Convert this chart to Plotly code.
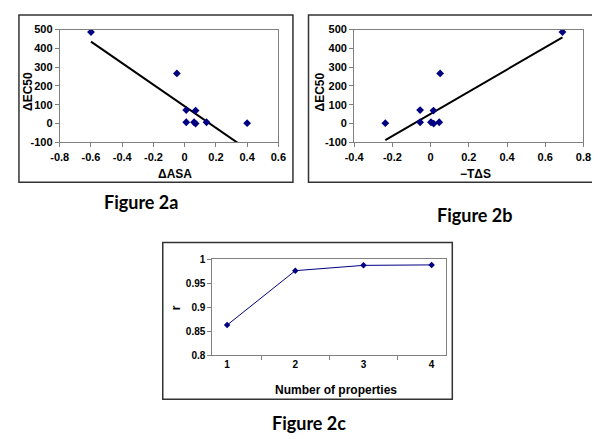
import numpy as np
import plotly.graph_objects as go

# Figure 2a / 2b: the same compounds, dEC50 against dASA and against -TdS
ec50 = [487, 267, 72, 7, 69, 7, 0, 7, 2]
asa = [-0.60, -0.05, 0.01, 0.01, 0.07, 0.06, 0.07, 0.14, 0.40]
tds = [0.69, 0.05, -0.055, -0.055, 0.015, 0.002, 0.016, 0.045, -0.237]

# linear trendlines (slope, intercept)
fit_asa = (-573, 92)
fit_tds = (589, 52)

# tick labels (Excel style, plain hyphen for negatives)
ec50_ticks = [-100, 0, 100, 200, 300, 400, 500]
asa_ticks = [-0.8, -0.6, -0.4, -0.2, 0, 0.2, 0.4, 0.6]
tds_ticks = [-0.4, -0.2, 0, 0.2, 0.4, 0.6, 0.8]

# Figure 2c: correlation vs number of properties
n_props = ["1", "2", "3", "4"]
r_vals = [0.863, 0.976, 0.987, 0.988]

W, H = 600, 439
FONT = "Arial, Liberation Sans, sans-serif"
NAVY = "#000080"
AXIS_GRAY = "#808080"


def px_x(p):
    return p / W


def px_y(p):
    return 1 - p / H


def trend(x, fit):
    # trendline over the data range, like Excel draws it
    m, b = fit
    xs = np.array([min(x), max(x)])
    return xs, m * xs + b


def ticks(vals):
    return dict(tickvals=vals, ticktext=[f"{v:g}" for v in vals])


fig = go.Figure()

# scatter panels
for i, (xd, fit) in enumerate([(asa, fit_asa), (tds, fit_tds)]):
    xa = "x" if i == 0 else "x2"
    ya = "y" if i == 0 else "y2"
    xs, ys = trend(xd, fit)
    fig.add_trace(go.Scatter(x=xs, y=ys, mode="lines", xaxis=xa, yaxis=ya,
                             line=dict(color="black", width=2), showlegend=False))
    fig.add_trace(go.Scatter(x=xd, y=ec50, mode="markers", xaxis=xa, yaxis=ya,
                             marker=dict(symbol="diamond", size=6, color=NAVY),
                             showlegend=False))

fig.add_trace(go.Scatter(x=n_props, y=r_vals, mode="lines+markers", xaxis="x3", yaxis="y3",
                         line=dict(color=NAVY, width=1),
                         marker=dict(symbol="diamond", size=5, color=NAVY),
                         showlegend=False))

tick_font = dict(family=FONT, size=11, color="black", weight="bold")
axis_common = dict(showgrid=False, zeroline=False, showline=True, mirror=True,
                   linecolor=AXIS_GRAY, linewidth=1, ticks="outside", ticklen=4,
                   tickcolor=AXIS_GRAY, tickfont=tick_font)

fig.update_layout(
    width=W, height=H,
    margin=dict(l=0, r=0, t=0, b=0),
    paper_bgcolor="white", plot_bgcolor="white",
    xaxis=dict(domain=[px_x(44), px_x(269)], range=[-0.8, 0.6],
               anchor="y", **ticks(asa_ticks), **axis_common),
    yaxis=dict(domain=[px_y(132), px_y(16)], range=[-100, 500],
               anchor="x", **ticks(ec50_ticks), **axis_common),
    xaxis2=dict(domain=[px_x(347), px_x(583)], range=[-0.4, 0.8],
                anchor="y2", **ticks(tds_ticks), **axis_common),
    yaxis2=dict(domain=[px_y(132), px_y(16)], range=[-100, 500],
                anchor="x2", **ticks(ec50_ticks), **axis_common),
    xaxis3=dict(domain=[px_x(201), px_x(442)], type="category", tickson="boundaries",
                anchor="y3", **{**axis_common, "tickfont": dict(tick_font, size=10)}),
    yaxis3=dict(domain=[px_y(351), px_y(252)], range=[0.8, 1.0], dtick=0.05,
                anchor="x3", **{**axis_common, "tickfont": dict(tick_font, size=10)}),
)

# outer chart boxes
boxes = [(2, 1, 284, 173), (300, 1, 597, 173), (150, 235, 448, 396)]
for x0, y0, x1, y1 in boxes:
    fig.add_shape(type="rect", xref="paper", yref="paper",
                  x0=px_x(x0), x1=px_x(x1), y0=px_y(y1), y1=px_y(y0),
                  line=dict(color="#333333", width=1.5))

title_font = dict(family=FONT, size=12, color="black", weight="bold")
labels = [
    ("ΔEC50", 11.5, 80, -90),
    ("ΔEC50", 311.5, 80, -90),
    ("ΔASA", 163, 164, 0),
    ("−TΔS", 472, 164, 0),
    ("r", 163, 302, -90),
    ("Number of properties", 328, 387, 0),
]
for txt, x, y, ang in labels:
    fig.add_annotation(text=txt, x=px_x(x), y=px_y(y), xref="paper", yref="paper",
                       showarrow=False, textangle=ang, font=title_font,
                       xanchor="center", yanchor="middle")

fig_font = dict(family="Lato, Open Sans, sans-serif", size=18, color="black", weight="bold")
for txt, x, y in [("Figure 2a", 128, 193), ("Figure 2b", 471, 207), ("Figure 2c", 300, 420)]:
    fig.add_annotation(text=txt, x=px_x(x), y=px_y(y), xref="paper", yref="paper",
                       showarrow=False, font=fig_font, xanchor="center", yanchor="middle")

fig.write_html("out.html")
